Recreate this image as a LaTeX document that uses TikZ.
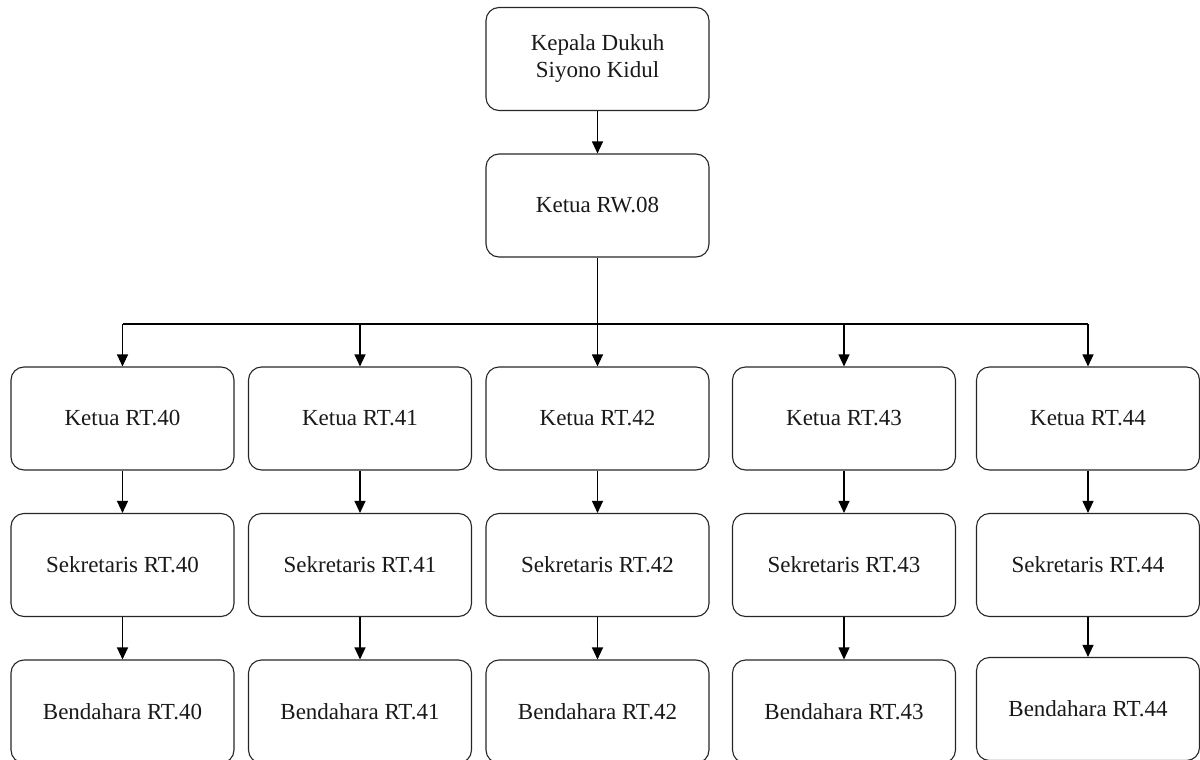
\documentclass[tikz,border=0pt]{standalone}
\usepackage{fontspec}
\setmainfont{Liberation Serif}
\usetikzlibrary{arrows.meta}
\begin{document}
\begin{tikzpicture}[x=1pt,y=-1pt,
  orgbox/.style={draw=black!85, line width=1.1pt, rounded corners=13pt, minimum width=223pt, minimum height=103pt, inner sep=0pt, align=center, font=\fontsize{23}{27}\selectfont, text=black!90},
  conn/.style={draw=black, line width=1.1pt},
  arr/.style={conn, -{Triangle[width=11pt,length=12pt]}}]
\useasboundingbox (0,0) rectangle (1200,760);
\node[orgbox] (kd) at (597.5,59) {Kepala Dukuh\\Siyono Kidul};
\node[orgbox] (rw) at (597.5,205.5) {Ketua RW.08};
\coordinate (bus) at (597.5,324);
\foreach \i/\x in {40/122.5, 41/360, 42/597.5, 43/844, 44/1088}{
  \node[orgbox] (k\i) at (\x,418.5) {Ketua RT.\i};
  \node[orgbox] (s\i) at (\x,565) {Sekretaris RT.\i};
}
\node[orgbox] (b40) at (122.5,711.5) {Bendahara RT.40};
\node[orgbox] (b41) at (360,711.5) {Bendahara RT.41};
\node[orgbox] (b42) at (597.5,711.5) {Bendahara RT.42};
\node[orgbox] (b43) at (844,711.5) {Bendahara RT.43};
\node[orgbox] (b44) at (1088,709) {Bendahara RT.44};
\draw[arr] (kd) -- (rw);
\draw[conn] (rw.south) -- (bus);
\draw[conn] (k40.north |- bus) -- (k44.north |- bus);
\foreach \i in {40,41,42,43,44}{
  \draw[arr] (k\i.north |- bus) -- (k\i.north);
  \draw[arr] (k\i) -- (s\i);
  \draw[arr] (s\i) -- (b\i);
}
\end{tikzpicture}
\end{document}
